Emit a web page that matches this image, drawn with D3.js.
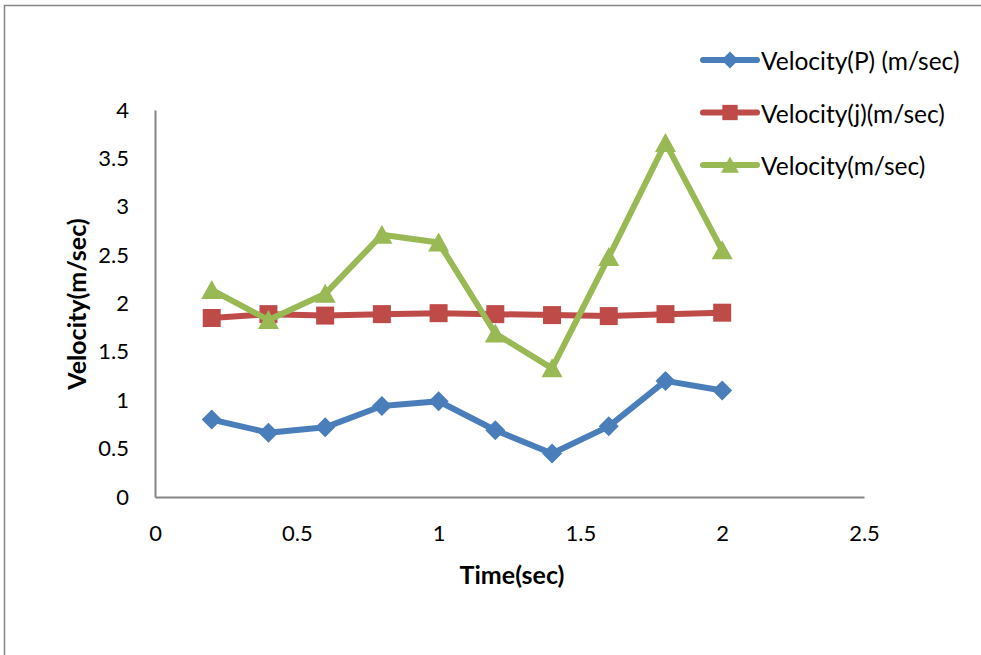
<!DOCTYPE html>
<html>
<head>
<meta charset="utf-8">
<script src="https://cdn.jsdelivr.net/npm/d3@7"></script>
<style>
  body { margin: 0; background: #fff; }
  text { font-family: Lato, "Open Sans", sans-serif; fill: #000; }
</style>
</head>
<body>
<div id="chart"></div>
<script>
// data
var times = [0.2, 0.4, 0.6, 0.8, 1.0, 1.2, 1.4, 1.6, 1.8, 2.0];
var velP = [0.80, 0.665, 0.72, 0.94, 0.99, 0.69, 0.45, 0.73, 1.20, 1.10];
var velJ = [1.85, 1.89, 1.875, 1.89, 1.90, 1.89, 1.88, 1.87, 1.89, 1.905];
var vel = [2.14, 1.83, 2.10, 2.71, 2.63, 1.69, 1.33, 2.48, 3.66, 2.55];
var seriesNames = ["Velocity(P) (m/sec)", "Velocity(j)(m/sec)", "Velocity(m/sec)"];
var xTicks = [0, 0.5, 1, 1.5, 2, 2.5];
var yTicks = [0, 0.5, 1, 1.5, 2, 2.5, 3, 3.5, 4];

// marker shapes (excel style)
var diamond = "M0,-10L10,0L0,10L-10,0Z";
var square = "M-9,-9L9,-9L9,9L-9,9Z";
var triangle = "M0,-10L10.5,9L-10.5,9Z";

var series = [
  {name: seriesNames[0], values: velP, color: "#4a7ebb", marker: diamond},
  {name: seriesNames[1], values: velJ, color: "#be4b48", marker: square},
  {name: seriesNames[2], values: vel, color: "#98b954", marker: triangle}
];

var W = 981, H = 655;
var margin = {top: 110, left: 155},
    width = 864 - 155,
    height = 497 - 110;

var svg = d3.select("#chart")
  .append("svg")
    .attr("width", W)
    .attr("height", H);

// outer frame
svg.append("rect")
  .attr("x", 4.5).attr("y", 5.5)
  .attr("width", 1100).attr("height", 800)
  .attr("fill", "none")
  .attr("stroke", "#868686")
  .attr("stroke-width", 1.5);

var g = svg.append("g")
  .attr("transform", "translate(" + margin.left + "," + margin.top + ")");

var x = d3.scaleLinear().domain([0, 2.5]).range([0, width]);
var y = d3.scaleLinear().domain([0, 4]).range([height, 0]);

// X axis
var xAxis = g.append("g")
  .attr("transform", "translate(0," + height + ")")
  .call(d3.axisBottom(x).tickValues(xTicks).tickSize(0).tickPadding(28).tickFormat(d3.format("")));
xAxis.select(".domain").attr("stroke", "#868686").attr("stroke-width", 2);
xAxis.selectAll("text").style("font-size", "22px").attr("fill", "#000");

// Y axis
var yAxis = g.append("g")
  .call(d3.axisLeft(y).tickValues(yTicks).tickSize(0).tickPadding(26).tickFormat(d3.format("")));
yAxis.select(".domain").attr("stroke", "#868686").attr("stroke-width", 2);
yAxis.selectAll("text").style("font-size", "22px").attr("fill", "#000");

// axis titles
svg.append("text")
  .attr("x", 512).attr("y", 584)
  .attr("text-anchor", "middle")
  .style("font-size", "25px").style("font-weight", "bold")
  .text("Time(sec)");

svg.append("text")
  .attr("transform", "translate(86,304)rotate(-90)")
  .attr("text-anchor", "middle")
  .style("font-size", "25px").style("font-weight", "bold")
  .text("Velocity(m/sec)");

var line = d3.line()
  .x(function(d, i) { return x(times[i]); })
  .y(function(d) { return y(d); });

series.forEach(function(s) {
  g.append("path")
    .datum(s.values)
    .attr("fill", "none")
    .attr("stroke", s.color)
    .attr("stroke-width", 6)
    .attr("stroke-linejoin", "round")
    .attr("d", line);

  g.selectAll(null)
    .data(s.values)
    .enter()
    .append("path")
      .attr("d", s.marker)
      .attr("transform", function(d, i) { return "translate(" + x(times[i]) + "," + y(d) + ")"; })
      .attr("fill", s.color);
});

// legend
var legend = svg.append("g");
series.forEach(function(s, i) {
  var ly = 60 + i * 52.5;
  legend.append("line")
    .attr("x1", 703).attr("x2", 757)
    .attr("y1", ly).attr("y2", ly)
    .attr("stroke", s.color).attr("stroke-width", 6).attr("stroke-linecap", "round");
  legend.append("path")
    .attr("d", s.marker)
    .attr("transform", "translate(730," + ly + ")scale(0.85)")
    .attr("fill", s.color);
  legend.append("text")
    .attr("x", 761).attr("y", ly + 10)
    .style("font-size", "24.5px")
    .text(s.name);
});
</script>
</body>
</html>
